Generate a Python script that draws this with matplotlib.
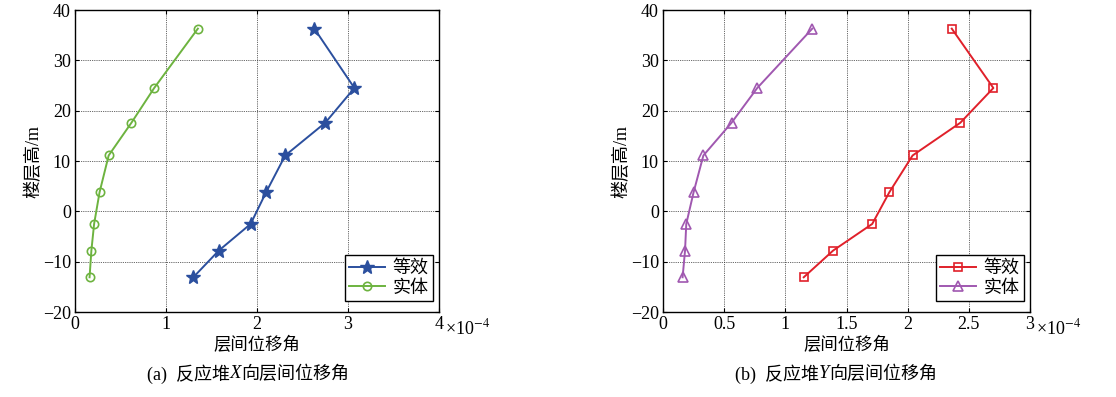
import matplotlib.pyplot as plt
import numpy as np

plt.rcParams['font.family'] = ['Liberation Serif', 'Noto Sans CJK SC']
plt.rcParams['mathtext.fontset'] = 'stix'

# storey heights (m)
heights = [36.3, 24.5, 17.6, 11.1, 3.8, -2.5, -7.8, -13.1]

# X direction drift (x1e-4)
x_equiv = [2.63, 3.07, 2.75, 2.31, 2.10, 1.93, 1.58, 1.30]
x_solid = [1.35, 0.87, 0.62, 0.37, 0.27, 0.21, 0.18, 0.16]

# Y direction drift (x1e-4)
y_equiv = [2.36, 2.70, 2.43, 2.04, 1.85, 1.71, 1.39, 1.15]
y_solid = [1.22, 0.77, 0.56, 0.33, 0.25, 0.19, 0.18, 0.16]

legend_labels = ['等效', '实体']

fig = plt.figure(figsize=(11.16, 3.97), dpi=100)
ax1 = fig.add_axes([0.0672, 0.2141, 0.3262, 0.7607])
ax2 = fig.add_axes([0.5941, 0.2141, 0.3289, 0.7607])


def style_axes(ax, xmax, xticks, xticklabels, tag, letter):
    ax.set_xlim(0, xmax)
    ax.set_ylim(-20, 40)
    ax.set_xticks(xticks)
    ax.set_xticklabels(xticklabels)
    ax.set_yticks(np.arange(-20, 41, 10))
    ax.set_yticklabels(['\u221220', '\u221210', '0', '10', '20', '30', '40'])
    ax.tick_params(direction='in', length=3, width=0.8, labelsize=13,
                   top=True, right=True, pad=3)
    ax.grid(True, color='#333333', linestyle=(0, (1, 1.2)), linewidth=0.6)
    for s in ax.spines.values():
        s.set_linewidth(1.0)
    ax.set_ylabel('楼层高/m', fontsize=13, labelpad=0)
    ax.set_xlabel('层间位移角', fontsize=12.5, labelpad=3)
    # multiplier next to the last tick label
    ax.annotate('\u00d710$^{-4}$', xy=(1.0, 0.0), xycoords='axes fraction',
                xytext=(4, -12), textcoords='offset points',
                ha='left', va='center', fontsize=13)
    # caption: "(a) 反应堆" + italic letter + "向层间位移角"
    t1 = ax.text(0.425, -0.205, tag + '  反应堆', transform=ax.transAxes,
                 ha='right', va='center', fontsize=13)
    t2 = ax.annotate(letter, xy=(1, 0.5), xycoords=t1, ha='left',
                     va='center', fontsize=13.5, style='italic',
                     family='Liberation Serif')
    ax.annotate('向层间位移角', xy=(1, 0.5), xycoords=t2, ha='left',
                va='center', fontsize=13)
    leg = ax.legend(loc='lower right', bbox_to_anchor=(0.984, 0.036),
                    borderaxespad=0, fontsize=13, fancybox=False,
                    framealpha=1, edgecolor='black', handlelength=2.0,
                    borderpad=0.25, labelspacing=0.15, handletextpad=0.4)
    leg.get_frame().set_linewidth(1.0)


ax1.plot(x_equiv, heights, color='#2b4f9e', marker='*', markersize=10,
         linewidth=1.4, label=legend_labels[0])
ax1.plot(x_solid, heights, color='#6db33f', marker='o', markersize=6,
         markerfacecolor='none', markeredgewidth=1.2, linewidth=1.4,
         label=legend_labels[1])
style_axes(ax1, 4, [0, 1, 2, 3, 4], ['0', '1', '2', '3', '4'], '(a)', 'X')

ax2.plot(y_equiv, heights, color='#e0202a', marker='s', markersize=6,
         markerfacecolor='none', markeredgewidth=1.2, linewidth=1.4,
         label=legend_labels[0])
ax2.plot(y_solid, heights, color='#a058b0', marker='^', markersize=7,
         markerfacecolor='none', markeredgewidth=1.2, linewidth=1.4,
         label=legend_labels[1])
style_axes(ax2, 3, [0, 0.5, 1, 1.5, 2, 2.5, 3],
           ['0', '0.5', '1', '1.5', '2', '2.5', '3'], '(b)', 'Y')

fig.savefig('out.png', dpi=100)
